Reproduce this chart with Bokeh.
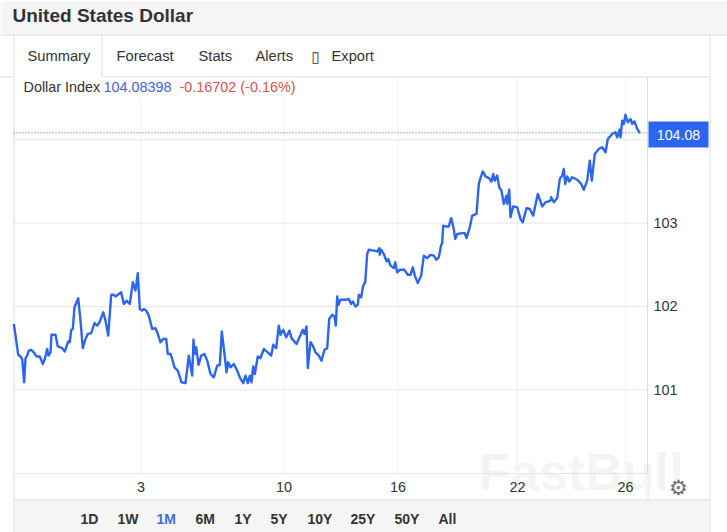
from bokeh.embed import file_html
from bokeh.resources import INLINE
from bokeh.plotting import figure
from bokeh.models import BoxAnnotation, Label, FixedTicker, Range1d, LinearAxis

TITLE = "United States Dollar"
TABS = ["Summary", "Forecast", "Stats", "Alerts", "\u25af", "Export"]
PERIODS = ["1D", "1W", "1M", "6M", "1Y", "5Y", "10Y", "25Y", "50Y", "All"]
SERIES_NAME = "Dollar Index"
LAST_TEXT = "104.08398"
CHANGE_TEXT = "-0.16702 (-0.16%)"
LAST_VALUE = 104.08398

x_ticks = [127.5, 270.5, 384.5, 504, 612]
x_tick_labels = ["3", "10", "16", "22", "26"]
y_ticks = [101, 102, 103, 104]
x_min, x_max = 0, 634
y_min, y_max = 99.996, 104.747

session_a = [0.3,2.3,4.7,7,8.7,10.7,12,13.7,15.3,17.7,20.3,23,26.3,27.7,29.3,31.3,33.7,35,37,38,42,44.3,48.7,51.3,54.7,56.3,57.7,59.3,61,64.7,67,69.3,72,74.3,77.7,81,83.7,86,89.7,92,94.7,97.7,100.3,102,104.3,107.7,110.3,113,116.3,119.3,122,124.3,126.3,128.7,130.3,132.7,135.3,138.7,142,144.3,147,149.7,152.7,154.3,157,158.7,161,164.3,168,172,175.3,178.7,180,181.3,182.7,185,187.7,191,193.7,197,200.3,203.7,206.3,208.3,211,213,214.7,217]
values_a = [101.79,101.63,101.42,101.40,101.37,101.09,101.38,101.41,101.47,101.48,101.45,101.40,101.40,101.36,101.31,101.37,101.49,101.41,101.45,101.66,101.66,101.52,101.50,101.46,101.58,101.57,101.72,101.73,101.99,102.10,101.83,101.50,101.61,101.67,101.68,101.80,101.77,101.81,101.93,101.83,101.65,102.14,102.14,102.12,102.14,102.17,102.03,102.07,102.03,102.29,102.19,102.40,101.97,101.95,101.97,101.95,101.89,101.73,101.74,101.67,101.57,101.61,101.61,101.43,101.43,101.37,101.27,101.23,101.09,101.08,101.41,101.17,101.60,101.43,101.51,101.30,101.41,101.43,101.35,101.19,101.15,101.29,101.30,101.70,101.43,101.21,101.33,101.27]

session_b = [220.3,223.7,226.3,229.7,232,234.3,236.3,238,239.7,241.3,244.3,247,250.3,254.3,257.7,259.7,262.7,265.3,267,269.7,272.7,276,278,283,286,289.3,291,293,294.3,297,299.3,302,305.3,308,311,313.7,315.7,318.7,321,322.3,323.7,325,327,332,335.3,337.7,339.3,342,344.3,345.3,347.7,349.7,351.7,353.7,355.3,360.3,363.7,366,366.3,367.7,370.3,373,374.7,377,380.3,381.7,383.7,386.3,391,394.3,397,399.3,401.3,404.3,407.7,410.3,413.7,417,420.3,423,425.3,427.7,428.7]
values_b = [101.31,101.23,101.15,101.08,101.17,101.08,101.17,101.09,101.28,101.19,101.40,101.38,101.49,101.45,101.41,101.54,101.50,101.77,101.66,101.72,101.63,101.71,101.62,101.55,101.63,101.72,101.67,101.76,101.26,101.57,101.53,101.45,101.41,101.35,101.48,101.50,101.85,101.90,101.88,101.77,102.12,102.02,102.08,102.08,102.09,102.03,102.06,102.00,102.02,102.14,102.11,102.25,102.29,102.63,102.68,102.67,102.66,102.70,102.62,102.68,102.63,102.54,102.57,102.49,102.46,102.53,102.41,102.44,102.44,102.38,102.38,102.47,102.37,102.28,102.37,102.61,102.58,102.62,102.61,102.56,102.59,102.74,102.76]

session_c = [429.7,432,435.3,437.7,440.3,441.7,443.7,448.7,451.3,453,456.3,458.7,463,465.3,467,469.3,472,475.3,478,479.7,481.3,483.7,486,488,490.3,493,493.7,495.7,497,499.7,503.7,507,509.3,513,516.3,519.7,524.3,528.7,532,537,537.7,540.3,543.7,546.3,548.7,550.3,551.7,553.7,555.7,558.7,563.7,567.7,570.3,573.7,576.3,578.3,581.3,585.3,588.7,592,594.3,598.7,602,603.7,606,607,608.7,610.3,612,614.3,617,618.7,621,623.7,626.3]
values_c = [102.97,102.96,102.96,103.06,102.93,102.81,102.87,102.88,102.88,102.82,102.95,103.09,103.11,103.47,103.54,103.62,103.56,103.54,103.50,103.59,103.51,103.57,103.42,103.39,103.23,103.33,103.23,103.40,103.07,103.20,103.19,103.05,103.01,103.18,103.17,103.09,103.35,103.20,103.25,103.27,103.31,103.25,103.30,103.53,103.57,103.65,103.47,103.56,103.50,103.55,103.52,103.47,103.40,103.51,103.75,103.51,103.83,103.89,103.91,103.85,104.01,104.07,104.09,104.03,104.12,104.03,104.23,104.19,104.30,104.21,104.25,104.19,104.22,104.13,104.08]

FONT = "Liberation Sans"
INK = "#333333"
BLUE = "#2c66f0"
RULE = "#dcdcdc"
GRID = "#e6e6e6"
PANEL = "#f5f5f5"

# The frame fills the canvas so that the surrounding page furniture is not clipped.
p = figure(width=727, height=532, output_backend="svg", toolbar_location=None,
           x_range=Range1d(-13, 714), y_range=Range1d(99.288, 105.671),
           min_border=0, x_axis_location=None, y_axis_location=None,
           outline_line_color=None, border_fill_color="white", background_fill_color="white")
p.xgrid.visible = False
p.ygrid.visible = False


def box(l, t, r, b, fill, level="underlay"):
    p.add_layout(BoxAnnotation(left=l, right=r, top=t, bottom=b,
                               left_units="canvas", right_units="canvas",
                               top_units="canvas", bottom_units="canvas",
                               fill_color=fill, fill_alpha=1, line_color=None, level=level))


def text(x, y, s, size=14.4, color=INK, style="normal", align="left", font=FONT, level="annotation"):
    p.add_layout(Label(x=x, y=y, x_units="canvas", y_units="canvas", text=s,
                       text_font=font, text_font_size=f"{size}px", text_color=color,
                       text_font_style=style, text_align=align, text_baseline="middle",
                       level=level))


# page chrome
box(0, 0, 727, 34, PANEL)
box(0, 34, 727, 35, RULE)
box(0, 76, 13, 77, RULE)
box(101, 76, 709, 77, RULE)
box(13, 35, 14, 532, RULE)
box(101, 35, 102, 76, RULE)
box(709, 35, 710, 532, RULE)
box(14, 499, 709, 532, PANEL)
box(14, 499, 709, 500, RULE)
box(647, 473, 648, 499, RULE)

# watermark, behind axes and data
text(478, 471, "FastBull", size=52, color="#f4f4f4", style="bold", level="underlay")

# grid lines, limited to the plotting area
p.segment(x_ticks, [y_min] * len(x_ticks), x_ticks, [y_max] * len(x_ticks),
          line_color="#eef0f3", line_width=1, level="underlay")
p.segment([x_min] * len(y_ticks), y_ticks, [x_max] * len(y_ticks), y_ticks,
          line_color=GRID, line_width=1, level="underlay")

# axes, placed inside the canvas-sized frame
xa = LinearAxis(ticker=FixedTicker(ticks=x_ticks), fixed_location=y_min, bounds=(x_min, x_max),
                major_label_overrides=dict(zip(x_ticks, x_tick_labels)), major_label_standoff=3)
ya = LinearAxis(ticker=FixedTicker(ticks=y_ticks), fixed_location=x_max, bounds=(y_min, y_max),
                major_label_overrides={104: ""}, major_label_standoff=0)
for a in (xa, ya):
    a.major_tick_line_color = None
    a.minor_tick_line_color = None
    a.major_label_text_font = FONT
    a.major_label_text_font_size = "14.4px"
    a.major_label_text_color = INK
xa.axis_line_color = GRID
ya.axis_line_color = RULE
p.add_layout(xa, "below")
p.add_layout(ya, "right")

# price line
xs = session_a + session_b + session_c
ys = values_a + values_b + values_c
p.line(xs, ys, line_color=BLUE, line_width=2.4, line_join="round")
p.line([x_min, x_max], [LAST_VALUE, LAST_VALUE], line_color="#3f6a9f", line_width=1, line_dash=[1, 2])

# the legend's white backdrop hides the tops of the first two vertical grid lines
box(14, 77, 296, 97, "white", level="annotation")

# price tag
box(648, 121, 708, 147, BLUE, level="annotation")
text(678, 134, f"{LAST_VALUE:.2f}", size=14.2, color="white", align="center")

# header and tabs
text(12, 15, TITLE, size=19, style="bold")
tab_x = [27, 116, 198, 255, 311, 331]
for x, s in zip(tab_x, TABS):
    text(x, 55.5, s, size=14.7, font="DejaVu Sans" if s == "\u25af" else FONT)
text(23, 86.5, SERIES_NAME)
text(103, 86.5, LAST_TEXT, color="#3f66d8")
text(179, 86.5, CHANGE_TEXT, color="#d9534f")

# period buttons
period_x = [80, 117, 156, 195, 234, 270, 307, 350, 394, 438]
for x, s in zip(period_x, PERIODS):
    text(x, 518, s, size=14, style="bold", color="#3f6fe0" if s == "1M" else INK)

# settings icon
text(678, 487, "\u2699", size=21, color="#6e6e6e", align="center", font="DejaVu Sans")

open("out.html", "w").write(file_html(p, INLINE))
